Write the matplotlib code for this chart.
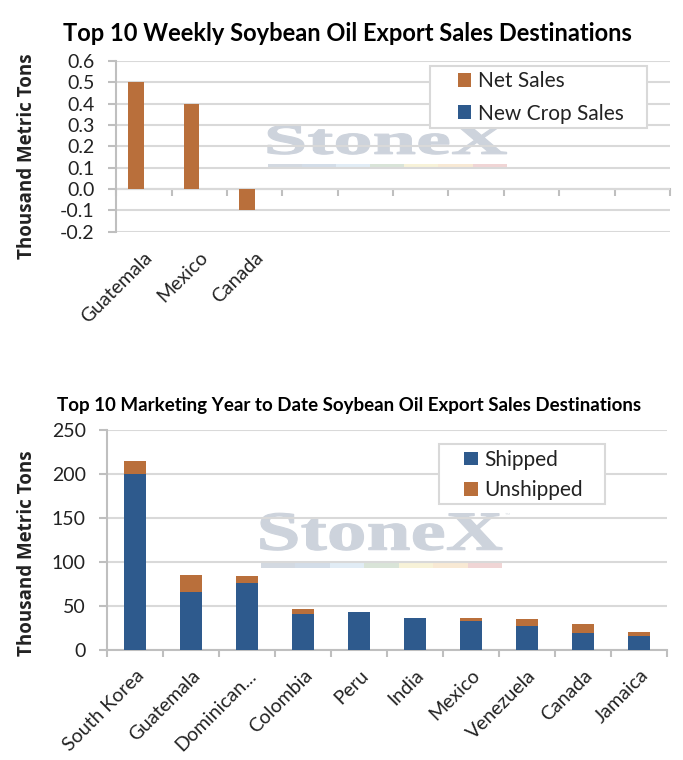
import numpy as np
import matplotlib.pyplot as plt
from matplotlib.patches import Rectangle, PathPatch
from matplotlib.textpath import TextPath
from matplotlib.font_manager import FontProperties
from matplotlib.transforms import Affine2D

plt.rcParams['font.family'] = ['Lato', 'DejaVu Sans']
plt.rcParams['axes.unicode_minus'] = False

# weekly chart data (thousand metric tons)
weekly_countries = ['Guatemala', 'Mexico', 'Canada']
weekly_net_sales = [0.5, 0.4, -0.1]
weekly_new_crop = [0.0, 0.0, 0.0]
weekly_slots = 10

# marketing year to date data
myd_countries = ['South Korea', 'Guatemala', 'Dominican...', 'Colombia', 'Peru',
                 'India', 'Mexico', 'Venezuela', 'Canada', 'Jamaica']
myd_shipped = [200, 66, 76, 41, 43, 36, 33, 27, 19, 16.5]
myd_unshipped = [15, 19, 8, 6, 0, 0.5, 3, 8, 10.5, 4]

ORANGE = '#B96F3B'
BLUE = '#2E5A8D'
GRID = '#D9D9D9'
AXIS = '#BFBFBF'
TXT = '#222222'
stripe_colors = ['#D3D9E1', '#D3DDE8', '#E1ECF5', '#D9E4D8', '#F7F2D8', '#F8E9D4', '#F0D5D5']


def watermark(ax, x0=0.274, x1=0.705, base=0.456, top=0.622):
    tp = TextPath((0, 0), 'StoneX', size=1,
                  prop=FontProperties(family='Liberation Serif', weight='bold'))
    ext = tp.get_extents()
    tr = (Affine2D().translate(-ext.x0, 0)
          .scale((x1 - x0) / ext.width, (top - base) / ext.y1)
          .translate(x0, base) + ax.transAxes)
    ax.add_patch(PathPatch(tp, transform=tr, facecolor='#CDD3DC', edgecolor='#CDD3DC',
                           lw=0.8, zorder=0.5))
    ax.text(x1 + 0.005, top - 0.02, '™', transform=ax.transAxes, fontsize=5,
            color='#DDE1E6', zorder=0.5)
    w = (x1 - x0) / len(stripe_colors)
    for i, c in enumerate(stripe_colors):
        ax.add_patch(Rectangle((x0 + i * w, 0.372), w, 0.026, transform=ax.transAxes,
                               color=c, lw=0, zorder=0.5))


def style_axes(ax):
    ax.grid(axis='y', color=GRID, lw=1.5, zorder=0)
    ax.set_axisbelow(True)
    for s in ['top', 'right']:
        ax.spines[s].set_visible(False)
    ax.spines['left'].set_color(AXIS)
    ax.spines['left'].set_linewidth(1.5)
    ax.tick_params(axis='y', colors=AXIS, length=5.5, width=1.5, labelcolor=TXT,
                   labelsize=14, pad=10)


def legend_box(ax, x, y, w, h):
    ax.add_patch(Rectangle((x, y), w, h, transform=ax.transAxes, facecolor='white',
                           edgecolor=GRID, lw=1.5, zorder=4))


fig = plt.figure(figsize=(6.83, 7.6), dpi=100)

# ---------- top chart ----------
ax1 = fig.add_axes([0.170, 0.695, 0.811, 0.225])
x = np.arange(len(weekly_countries))
w = 0.28
ax1.bar(x - w / 2, weekly_net_sales, w, color=ORANGE, label='Net Sales', zorder=3)
ax1.bar(x + w / 2, weekly_new_crop, w, color=BLUE, label='New Crop Sales', zorder=3)
ax1.set_xlim(-0.5, weekly_slots - 0.5)
ax1.set_ylim(-0.2, 0.6)
ax1.set_yticks(np.arange(-0.2, 0.61, 0.1))
ax1.yaxis.set_major_formatter(plt.FuncFormatter(lambda v, p: f'{v:.1f}'))
style_axes(ax1)
ax1.spines['bottom'].set_visible(False)
ax1.set_xticks(x)
ax1.set_xticklabels(weekly_countries, rotation=45, ha='right', rotation_mode='anchor',
                    fontsize=14, color=TXT)
ax1.tick_params(axis='x', length=0, pad=12)
# axis line at zero with category separators
zero_ax = ax1.secondary_xaxis(0.25)
zero_ax.set_xticks(np.arange(-0.5, weekly_slots, 1.0))
zero_ax.set_xticklabels([])
zero_ax.spines['bottom'].set_color(AXIS)
zero_ax.spines['bottom'].set_linewidth(1.5)
zero_ax.tick_params(axis='x', colors=AXIS, length=5, width=1.5)
ax1.set_ylabel('Thousand Metric Tons', family='Open Sans', fontweight='bold',
               fontsize=13.5, color=TXT)
ax1.yaxis.set_label_coords(-0.143, 0.44)
ax1.set_title('Top 10 Weekly Soybean Oil Export Sales Destinations', fontsize=17,
              fontweight='bold', color='black', pad=14, x=0.417)
legend_box(ax1, 0.567, 0.608, 0.391, 0.363)
leg1 = ax1.legend(loc='upper left', bbox_to_anchor=(0.617, 0.94), fontsize=15,
                  frameon=False, handlelength=0.65, handleheight=0.65,
                  borderaxespad=0, borderpad=0, labelspacing=0.6, handletextpad=0.3)
leg1.set_zorder(5)
for t in leg1.get_texts():
    t.set_color(TXT)
watermark(ax1)

# ---------- bottom chart ----------
ax2 = fig.add_axes([0.157, 0.1447, 0.820, 0.2895])
x2 = np.arange(len(myd_countries))
ax2.bar(x2, myd_shipped, 0.4, color=BLUE, label='Shipped', zorder=3)
ax2.bar(x2, myd_unshipped, 0.4, bottom=myd_shipped, color=ORANGE, label='Unshipped',
        zorder=3)
ax2.set_xlim(-0.5, len(myd_countries) - 0.5)
ax2.set_ylim(0, 250)
ax2.set_yticks(np.arange(0, 251, 50))
style_axes(ax2)
ax2.spines['bottom'].set_color(AXIS)
ax2.spines['bottom'].set_linewidth(1.5)
ax2.set_xticks(np.arange(-0.5, len(myd_countries), 1.0))
ax2.set_xticklabels([])
ax2.tick_params(axis='x', colors=AXIS, length=5, width=1.5)
ax2.set_xticks(x2, minor=True)
ax2.set_xticklabels(myd_countries, minor=True, rotation=45, ha='right',
                    rotation_mode='anchor', fontsize=14, color=TXT)
ax2.tick_params(axis='x', which='minor', length=0, pad=12)
ax2.set_ylabel('Thousand Metric Tons', family='Open Sans', fontweight='bold',
               fontsize=13.5, color=TXT)
ax2.yaxis.set_label_coords(-0.125, 0.44)
ax2.set_title('Top 10 Marketing Year to Date Soybean Oil Export Sales Destinations',
              fontsize=13.5, fontweight='bold', color='black', pad=14, x=0.431)
legend_box(ax2, 0.593, 0.664, 0.295, 0.273)
leg2 = ax2.legend(loc='upper left', bbox_to_anchor=(0.6375, 0.91), fontsize=15,
                  frameon=False, handlelength=0.65, handleheight=0.65,
                  borderaxespad=0, borderpad=0, labelspacing=0.5, handletextpad=0.3)
leg2.set_zorder(5)
for t in leg2.get_texts():
    t.set_color(TXT)
watermark(ax2)

fig.savefig('out.png', dpi=100)
